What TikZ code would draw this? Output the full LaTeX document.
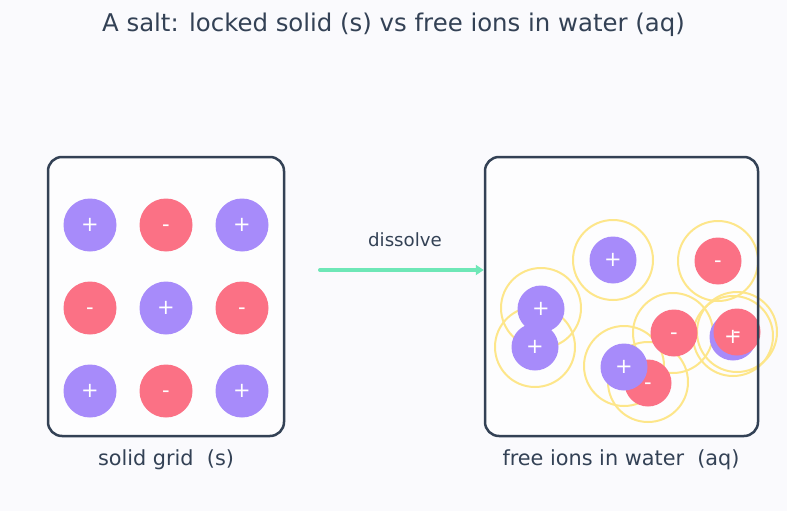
\documentclass[tikz,border=0pt]{standalone}
\usepackage{fontspec}
\setmainfont{DejaVu Sans}
\usetikzlibrary{arrows.meta}
\definecolor{pagebg}{HTML}{FAFAFD}
\definecolor{boxbg}{HTML}{FDFDFE}
\definecolor{slate}{HTML}{334155}
\definecolor{ionplus}{HTML}{A78BFA}
\definecolor{ionminus}{HTML}{FB7185}
\definecolor{mint}{HTML}{6EE7B7}
\definecolor{shell}{HTML}{FDE68A}
\tikzset{
  ion/.style={circle,inner sep=0pt,minimum size=#1},
  ionsign/.style={text=white,font=\fontsize{21}{21}\selectfont,inner sep=0pt,
    anchor=base,yshift=-6.8pt},
  caption/.style={text=slate,font=\fontsize{20.8}{21}\selectfont},
  panel/.style={draw=slate,line width=2.5pt,rounded corners=14pt,
    inner sep=0pt,minimum width=236pt,minimum height=279pt},
}
\begin{document}
\begin{tikzpicture}[x=1pt,y=-1pt,line cap=round,line join=round]
  \fill[pagebg] (0,0) rectangle (787,511);
  \useasboundingbox (0,0) rectangle (787,511);
  \node[text=slate,font=\fontsize{24.4}{25}\selectfont] (title) at (393.5,25) {A salt: locked solid (s) vs free ions in water (aq)};
  % panels (fill only, outline at the end)
  \node[panel,draw=none,fill=boxbg] (solid) at (166,296.5) {};
  \node[panel,draw=none,fill=boxbg,minimum width=273pt] (water) at (621.5,296.5) {};
  % solid lattice
  \foreach \x/\y/\k/\s [count=\i] in {90/225/plus/+,166/225/minus/-,242/225/plus/+,
      90/308/minus/-,166/308/plus/+,242/308/minus/-,
      90/391/plus/+,166/391/minus/-,242/391/plus/+}{
    \node[ion=53pt,fill=ion\k] (g\i) at (\x,\y) {};
    \node[ionsign] (g\i-s) at (g\i.center) {\s};
  }
  % hydration shells
  \foreach \x/\y in {613/260,718/261,541/308,535/347,673/333,648/382,624/366,733/336,737/332}
    \draw[shell,line width=2pt] (\x,\y) circle[radius=40pt];
  % free ions
  \foreach \x/\y/\k [count=\i] in {613/260/plus,718/261/minus,541/309/plus,535/347/plus,
      674/333/minus,648/383/minus,624/367/plus,733/337/plus,737/332/minus}
    \node[ion=47pt,fill=ion\k] (f\i) at (\x,\y) {};
  \foreach \i/\s in {1/+,2/-,3/+,4/+,5/-,6/-,7/+,8/+,9/-}
    \node[ionsign] (f\i-s) at (f\i.center) {\s};
  % arrow
  \coordinate (start) at (320,270);
  \draw[mint,line width=4pt,-{Triangle[length=8pt,width=10pt]}] (start) -- (start -| water.west);
  \node[text=slate,font=\fontsize{18.2}{19}\selectfont] (dissolve) at (405,240) {dissolve};
  % outlines
  \node[panel] (solid-o) at (solid) {};
  \node[panel,minimum width=273pt] (water-o) at (water) {};
  \node[caption] (solid-c) at (166,460) {solid grid\ \ (s)};
  \node[caption] (water-c) at (621,460) {free ions in water\ \ (aq)};
\end{tikzpicture}
\end{document}
